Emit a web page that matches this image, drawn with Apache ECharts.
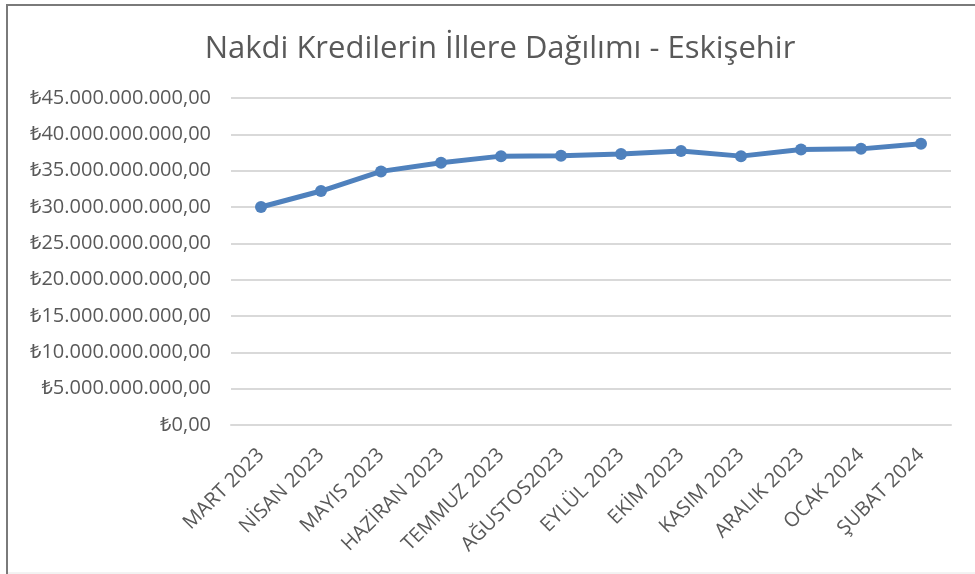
<!DOCTYPE html>
<html>
<head>
<meta charset="utf-8">
<script src="https://cdn.jsdelivr.net/npm/echarts@6/dist/echarts.min.js"></script>
<style>
  html, body { margin: 0; padding: 0; background: #fff; }
  #chart { width: 975px; height: 574px; }
</style>
</head>
<body>
<div id="chart"></div>
<script>
// aylar
const months = ['MART 2023', 'NİSAN 2023', 'MAYIS 2023', 'HAZİRAN 2023', 'TEMMUZ 2023', 'AĞUSTOS2023',
  'EYLÜL 2023', 'EKİM 2023', 'KASIM 2023', 'ARALIK 2023', 'OCAK 2024', 'ŞUBAT 2024'];
// nakdi krediler (TL), grafikten okunan yaklaşık değerler
const credits = [30.0e9, 32.2e9, 34.9e9, 36.1e9, 37.0e9, 37.05e9,
  37.3e9, 37.7e9, 37.0e9, 37.9e9, 38.0e9, 38.7e9];
const yMax = 45e9;
const yStep = 5e9;

const fmtTL = (v) => {
  const s = Math.round(v).toString().replace(/\B(?=(\d{3})+(?!\d))/g, '.');
  return '₺' + s + ',00';
};

const chart = echarts.init(document.getElementById('chart'));
const labelFont = '"Open Sans", "Noto Sans", sans-serif';

chart.setOption({
  backgroundColor: '#fff',
  animation: false,
  title: {
    text: 'Nakdi Kredilerin İllere Dağılımı - Eskişehir',
    left: 495,
    textAlign: 'center',
    top: 29,
    textStyle: { fontFamily: labelFont, fontSize: 31, fontWeight: 'normal', color: '#595959' }
  },
  graphic: [
    {
      type: 'rect', silent: true,
      shape: { x: 7, y: 5, width: 1000, height: 700 },
      style: { fill: 'none', stroke: '#7a7a7a', lineWidth: 2 }
    },
    {
      type: 'line', silent: true,
      shape: { x1: 8, y1: 573, x2: 975, y2: 573 },
      style: { stroke: '#e6e6e6', lineWidth: 1 }
    }
  ],
  grid: { left: 231, right: 24, top: 98, bottom: 149, containLabel: false },
  xAxis: {
    type: 'category',
    data: months,
    boundaryGap: true,
    axisLine: { show: true, lineStyle: { color: '#d9d9d9', width: 2 } },
    axisTick: { show: false },
    axisLabel: {
      rotate: 45,
      interval: 0,
      margin: 27,
      fontFamily: labelFont,
      fontSize: 20,
      color: '#595959'
    }
  },
  yAxis: {
    type: 'value',
    min: 0,
    max: yMax,
    interval: yStep,
    axisLine: { show: false },
    axisTick: { show: false },
    splitLine: { lineStyle: { color: '#d9d9d9', width: 2 } },
    axisLabel: {
      formatter: fmtTL,
      margin: 20,
      fontFamily: labelFont,
      fontSize: 20,
      color: '#595959'
    }
  },
  series: [
    {
      name: 'Eskişehir',
      type: 'line',
      data: credits,
      symbol: 'circle',
      symbolSize: 12,
      lineStyle: { color: '#4f81bd', width: 5 },
      itemStyle: { color: '#4f81bd' }
    }
  ]
});
</script>
</body>
</html>
